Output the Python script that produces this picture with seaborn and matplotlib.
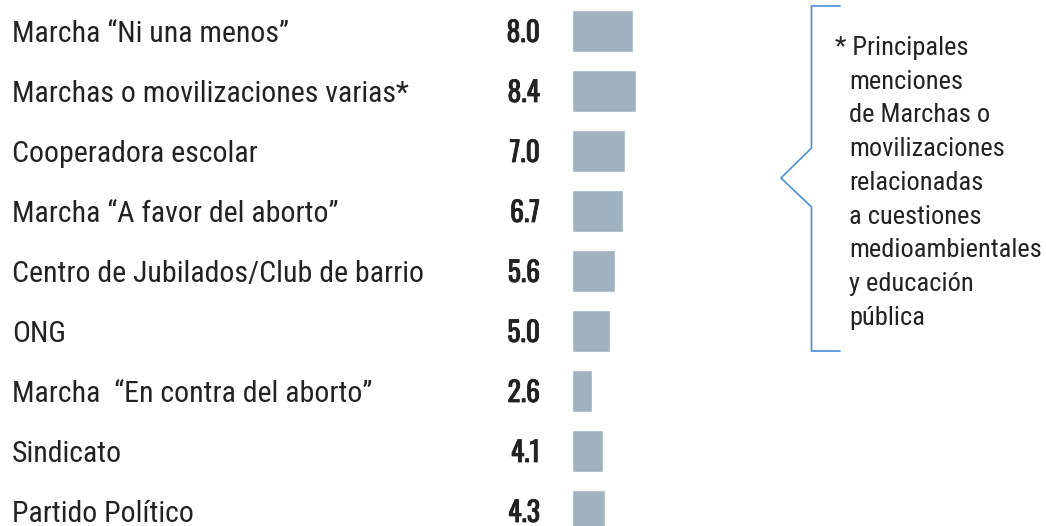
import matplotlib
matplotlib.use("Agg")
import matplotlib.pyplot as plt
import matplotlib.patheffects as pe
import seaborn as sns
import pandas as pd

categorias = [
    "Marcha \u201cNi una menos\u201d",
    "Marchas o movilizaciones varias*",
    "Cooperadora escolar",
    "Marcha \u201cA favor del aborto\u201d",
    "Centro de Jubilados/Club de barrio",
    "ONG",
    "Marcha  \u201cEn contra del aborto\u201d",
    "Sindicato",
    "Partido Pol\u00edtico",
]
valores = [8.0, 8.4, 7.0, 6.7, 5.6, 5.0, 2.6, 4.1, 4.3]

nota_lineas = [
    "* Principales",
    "menciones",
    "de Marchas o",
    "movilizaciones",
    "relacionadas",
    "a cuestiones",
    "medioambientales",
    "y educaci\u00f3n",
    "p\u00fablica",
]

sns.set_theme(style="white")
plt.rcParams["font.family"] = ["Roboto Condensed", "Roboto", "DejaVu Sans"]

W, H = 1046, 526
fig = plt.figure(figsize=(W / 100, H / 100), dpi=100)

# Bar axes: x starts at px 572, 7.6 px per unit; rows every 60 px, first centre at 31 px
x0 = 572
px_per_unit = 7.6
xmax = 20
ax = fig.add_axes([x0 / W, 0, xmax * px_per_unit / W, 1])

df = pd.DataFrame({"categoria": categorias, "valor": valores})
sns.barplot(data=df, y="categoria", x="valor", orient="h", color="#a0b2c0",
            saturation=1, width=0.7, ax=ax)
ax.set_xlim(0, xmax)
ax.set_ylim(495 / 60, -31 / 60)
ax.axis("off")

# Overlay axes in pixel coordinates for labels and the bracket note
ov = fig.add_axes([0, 0, 1, 1])
ov.set_xlim(0, W)
ov.set_ylim(H, 0)
ov.axis("off")

txt = "#222222"
negrita = [pe.withStroke(linewidth=0.6, foreground=txt)]
for i, (cat, val) in enumerate(zip(categorias, valores)):
    yc = 31 + 60 * i
    ov.text(12, yc + 11.5, cat, fontsize=21.5, color=txt,
            ha="left", va="baseline")
    ov.text(540, yc + 11, f"{val:.1f}", fontsize=20, color=txt,
            family=["Oswald", "Roboto Condensed", "DejaVu Sans"],
            ha="right", va="baseline", path_effects=negrita)

# Curly bracket
bc = "#4a8fd6"
ov.plot([840, 811.5, 811.5, 781, 811.5, 811.5, 840],
        [6, 6, 148, 178, 207, 351, 351], color=bc, lw=1.2,
        solid_joinstyle="miter")

for j, linea in enumerate(nota_lineas):
    ov.text(835 if j == 0 else 849, 55 + 33.7 * j, linea, fontsize=19,
            color=txt, ha="left", va="baseline")

fig.savefig("out.png", dpi=100, facecolor="white")
